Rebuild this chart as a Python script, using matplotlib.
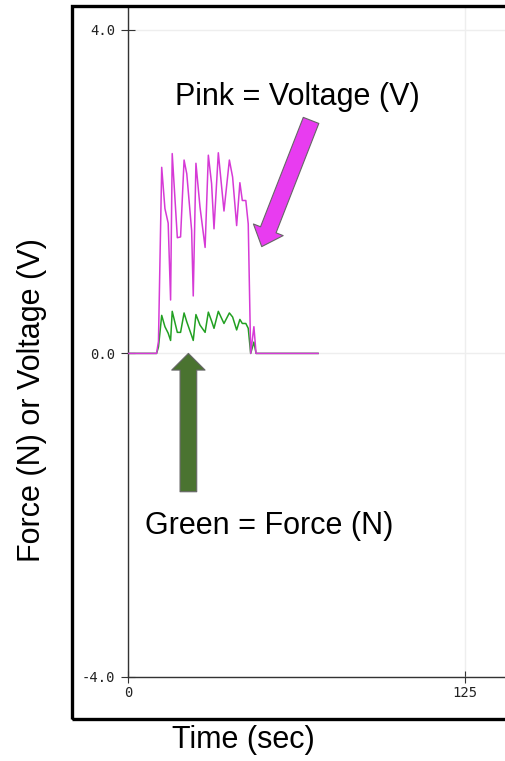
import numpy as np
import matplotlib
matplotlib.use('Agg')
import matplotlib.pyplot as plt
from matplotlib.patches import Rectangle

# data
time_s = [0, 10.6, 11.3, 12.5, 13.7, 14.9, 15.8, 16.4, 18.3, 19.5, 20.8, 21.8, 23.6, 24.2,
          25.2, 26.7, 28.6, 29.8, 31.0, 31.9, 33.5, 35.6, 37.6, 38.8, 40.3, 41.5,
          42.4, 43.7, 44.6, 45.5, 46.7, 47.5, 70.5]
voltage = [0, 0, 0.15, 2.30, 1.79, 1.61, 0.66, 2.47, 1.43, 1.44, 2.39, 2.22, 1.52, 0.71,
           2.35, 1.81, 1.31, 2.45, 2.10, 1.54, 2.48, 1.76, 2.39, 2.18, 1.58, 2.11,
           1.89, 1.89, 1.60, 0, 0.33, 0, 0]
force = [0, 0, 0.08, 0.47, 0.33, 0.25, 0.16, 0.52, 0.26, 0.26, 0.50, 0.39, 0.22, 0.16,
         0.48, 0.35, 0.26, 0.51, 0.40, 0.31, 0.52, 0.37, 0.50, 0.45, 0.29, 0.42,
         0.37, 0.37, 0.31, 0, 0.14, 0, 0]
yticks = [-4.0, 0.0, 4.0]
xticks = [0, 125]

W, H = 506, 761
fig = plt.figure(figsize=(W/100, H/100), dpi=100)
sans = ['Liberation Sans', 'DejaVu Sans']

# axes runs off the right edge, like the cropped original
ax = fig.add_axes([128/W, (H-677)/H, (600-128)/W, (677-8)/H])
ax.set_xlim(0, (600-128)/2.696)
ax.set_ylim(-4.0, 4.0 + (677-8)/80.9 - 8.0)

ax.plot(time_s, force, color='#22a022', lw=1.1, zorder=3)
ax.plot(time_s, voltage, color='#d63ad6', lw=1.1, zorder=4)

ax.set_yticks(yticks)
ax.set_yticklabels(['%.1f' % v for v in yticks])
ax.set_xticks(xticks)
ax.set_xticklabels([str(v) for v in xticks])
for lab in ax.get_xticklabels() + ax.get_yticklabels():
    lab.set_family('DejaVu Sans Mono')
    lab.set_fontsize(10)
    lab.set_color('#222222')
ax.tick_params(axis='y', direction='inout', length=10, width=0.8, color='#333333', pad=4)
ax.tick_params(axis='x', direction='inout', length=9, width=0.8, color='#333333', pad=2)
ax.grid(True, color='#eeeeee', lw=1)
ax.set_axisbelow(True)
for s in ['top', 'right']:
    ax.spines[s].set_visible(False)
for s in ['left', 'bottom']:
    ax.spines[s].set_color('#333333')
    ax.spines[s].set_linewidth(1.0)

# annotations
ax.text(62.7, 3.17, 'Pink = Voltage (V)', fontsize=22, family=sans, ha='center', va='center')
ax.text(52.3, -2.13, 'Green = Force (N)', fontsize=22, family=sans, ha='center', va='center')
ax.annotate('', xy=(49.6, 1.32), xytext=(67.9, 2.88),
            arrowprops=dict(arrowstyle='simple,head_length=1.3,head_width=2.3,tail_width=1.2',
                            mutation_scale=10, fc='#e83cf0', ec='#666666', lw=0.8,
                            shrinkA=0, shrinkB=0))
ax.annotate('', xy=(22.4, 0.0), xytext=(22.4, -1.71),
            arrowprops=dict(arrowstyle='simple,head_length=1.2,head_width=2.4,tail_width=1.2',
                            mutation_scale=10, fc='#4a7330', ec='#666666', lw=0.8,
                            shrinkA=0, shrinkB=0))

# outer black frame and axis titles
fig.patches.append(Rectangle((72/W, (H-719)/H), 1.0, (719-6)/H, transform=fig.transFigure,
                             fill=False, ec='black', lw=2.4, clip_on=False))
fig.text(243/W, 1 - 740/H, 'Time (sec)', fontsize=22, family=sans, ha='center', va='center')
fig.text(32/W, 1 - 400/H, 'Force (N) or Voltage (V)', fontsize=22, family=sans,
         ha='center', va='center', rotation=90)

fig.savefig('out.png', dpi=100)
